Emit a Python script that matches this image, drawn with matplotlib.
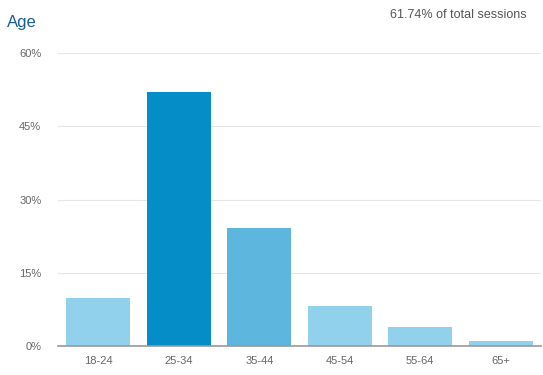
import matplotlib
matplotlib.use("Agg")
import matplotlib.pyplot as plt

# data
ages = ["18-24", "25-34", "35-44", "45-54", "55-64", "65+"]
share = [9.8, 52.0, 24.2, 8.2, 3.9, 1.0]
bar_colors = ["#92d1ec", "#058dc7", "#5cb6dd", "#92d1ec", "#92d1ec", "#92d1ec"]
y_ticks = [0, 15, 30, 45, 60]

plt.rcParams["font.family"] = ["Liberation Sans", "DejaVu Sans"]

fig = plt.figure(figsize=(5.43, 3.75), dpi=100)
ax = fig.add_axes([58 / 543, 29 / 375, 483 / 543, 293 / 375])

ax.bar(range(len(ages)), share, width=0.8, color=bar_colors, zorder=3)

ax.set_xlim(-0.5, len(ages) - 0.5)
ax.set_ylim(0, 60)
ax.set_yticks(y_ticks)
ax.set_yticklabels([f"{t}%" for t in y_ticks])
ax.set_xticks(range(len(ages)))
ax.set_xticklabels(ages)

ax.grid(axis="y", color="#e6e6e6", linewidth=0.8, zorder=0)
for side in ["top", "right", "left"]:
    ax.spines[side].set_visible(False)
ax.spines["bottom"].set_color("#999999")
ax.spines["bottom"].set_linewidth(1.2)
ax.spines["bottom"].set_zorder(4)

ax.tick_params(axis="both", length=0, labelsize=8, labelcolor="#666666")
ax.tick_params(axis="y", pad=12)
ax.tick_params(axis="x", pad=7)

fig.text(7 / 543, 1 - 22 / 375, "Age", fontsize=12, color="#1b5e96", va="center")
fig.text(527 / 543, 1 - 15 / 375, "61.74% of total sessions", fontsize=9,
         color="#555555", ha="right", va="center")

fig.savefig("out.png", dpi=100)
